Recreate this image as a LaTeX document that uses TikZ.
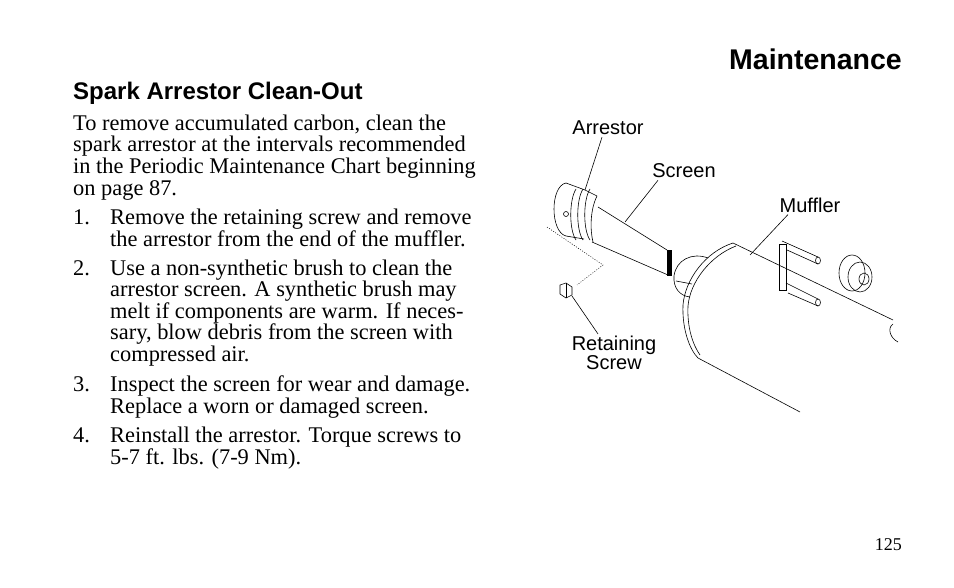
\documentclass[tikz,border=0pt]{standalone}
\usepackage{fontspec}
\setmainfont{Liberation Serif}
\newfontfamily\lsans{Liberation Sans}
\begin{document}
\begin{tikzpicture}[x=1pt,y=-1pt,
  body/.style={anchor=base west,inner sep=0pt,font=\fontsize{22.4}{21}\selectfont},
  lbl/.style={inner sep=0pt,font=\lsans\fontsize{20}{22}\selectfont,align=center},
  ln/.style={line width=0.6pt},
  lead/.style={line width=0.6pt}]
\useasboundingbox (0,0) rectangle (954,588);
\node[anchor=base east,inner sep=0pt,font=\lsans\bfseries\fontsize{28.5}{30}\selectfont] (title) at (902,70) {Maintenance};
\node[anchor=base west,inner sep=0pt,font=\lsans\bfseries\fontsize{24}{26}\selectfont] (sub) at (73,100) {Spark Arrestor Clean-Out};
\node[body] (p1) at (73,131) {To remove accumulated carbon, clean the};
\node[body] (p2) at (73,152) {spark arrestor at the intervals recommended};
\node[body] (p3) at (73,174) {in the Periodic Maintenance Chart beginning};
\node[body] (p4) at (73,196) {on page 87.};
\foreach \n/\y in {1/225,2/276,3/391,4/442}{\node[body] (n\n) at (73,\y) {\n.};}
\node[body] (a1) at (110,225) {Remove the retaining screw and remove};
\node[body] (a2) at (110,247) {the arrestor from the end of the muffler.};
\node[body] (b1) at (110,276) {Use a non-synthetic brush to clean the};
\node[body] (b2) at (110,297) {arrestor screen. A synthetic brush may};
\node[body] (b3) at (110,319) {melt if components are warm. If neces-};
\node[body] (b4) at (110,340) {sary, blow debris from the screen with};
\node[body] (b5) at (110,362) {compressed air.};
\node[body] (c1) at (110,391) {Inspect the screen for wear and damage.};
\node[body] (c2) at (110,413) {Replace a worn or damaged screen.};
\node[body] (d1) at (110,442) {Reinstall the arrestor. Torque screws to};
\node[body] (d2) at (110,464) {5-7 ft. lbs. (7-9 Nm).};
\node[anchor=base east,inner sep=0pt,font=\fontsize{18}{20}\selectfont] (pg) at (902,550) {125};
% labels
\node[lbl] (lA) at (608,128) {Arrestor};
\node[lbl] (lS) at (684,171) {Screen};
\node[lbl] (lM) at (810,205) {Muffler};
\node[lbl] (lR) at (614,353) {Retaining\\[-3pt]Screw};
% arrestor
\draw[ln] (566,183) .. controls (550,186) and (550,232) .. (566,236);
\draw[ln] (566,183) -- (585,190);
\draw[ln] (566,236) -- (584,239);
\foreach \x in {576,583,590}{\draw[ln] (\x,189) .. controls (\x-7,200) and (\x-7,230) .. (\x,240);}
\draw[ln] (597,196) .. controls (590,210) and (590,230) .. (593,242);
\draw[ln] (585,190) -- (597,196);
\draw[ln] (598,207) -- (667,250);
\draw[ln] (592,242) -- (668,275);
\draw[fill=black] (667,250) rectangle (671,275);
\draw[ln] (566,214) circle (2.5);
% dashed
\draw[dash pattern=on 1pt off 1.5pt,line width=0.5pt] (547,227) -- (603,265) -- (577,285);
% screw
\draw[ln] (560,285) -- (566,283) -- (572,287) -- (572,295) -- (566,298) -- (560,294) -- cycle;
\draw[ln] (566,283) -- (566,298);
% muffler
\draw[ln] (733,243) .. controls (705,252) and (685,280) .. (683,305) .. controls (682,330) and (690,350) .. (698,358);
\draw[ln] (736,246) .. controls (710,256) and (690,282) .. (688,306) .. controls (687,328) and (693,345) .. (700,355);
\draw[ln] (733,243) -- (893,320);
\draw[ln] (698,358) -- (800,412);
\draw[ln] (893,324) .. controls (887,328) and (890,338) .. (898,342);
% inlet stub
\draw[ln] (708,258) .. controls (692,252) and (676,260) .. (674,276) .. controls (673,288) and (680,296) .. (690,297);
\draw[ln] (676,281) -- (692,284);
% U-bolt
\draw[ln] (779,244) rectangle (786,290);
\draw[ln] (782,241) -- (818,257); \draw[ln] (787,250) -- (818,264);
\draw[ln] (818,260.5) ellipse (2.5 and 3.5);
\draw[ln] (786,283) -- (818,299); \draw[ln] (788,293) -- (818,306);
\draw[ln] (818,302.5) ellipse (2.5 and 3.5);
% grommet
\draw[ln] (852,273) ellipse (13 and 18);
\draw[ln] (860,277) ellipse (12 and 15);
\draw[ln] (864,279) ellipse (5 and 6);
% leaders
\draw[lead] (lA.south) ++(-6,2) coordinate (qa) -- (585,190);
\draw[lead] (lS.south) ++(-26,2) coordinate (qs) -- (625,222);
\draw[lead] (lM.south) ++(-22,2) coordinate (qm) -- (750,255);
\draw[lead] (lR.north) ++(-16,-2) coordinate (qr) -- (572,296);
\end{tikzpicture}
\end{document}
